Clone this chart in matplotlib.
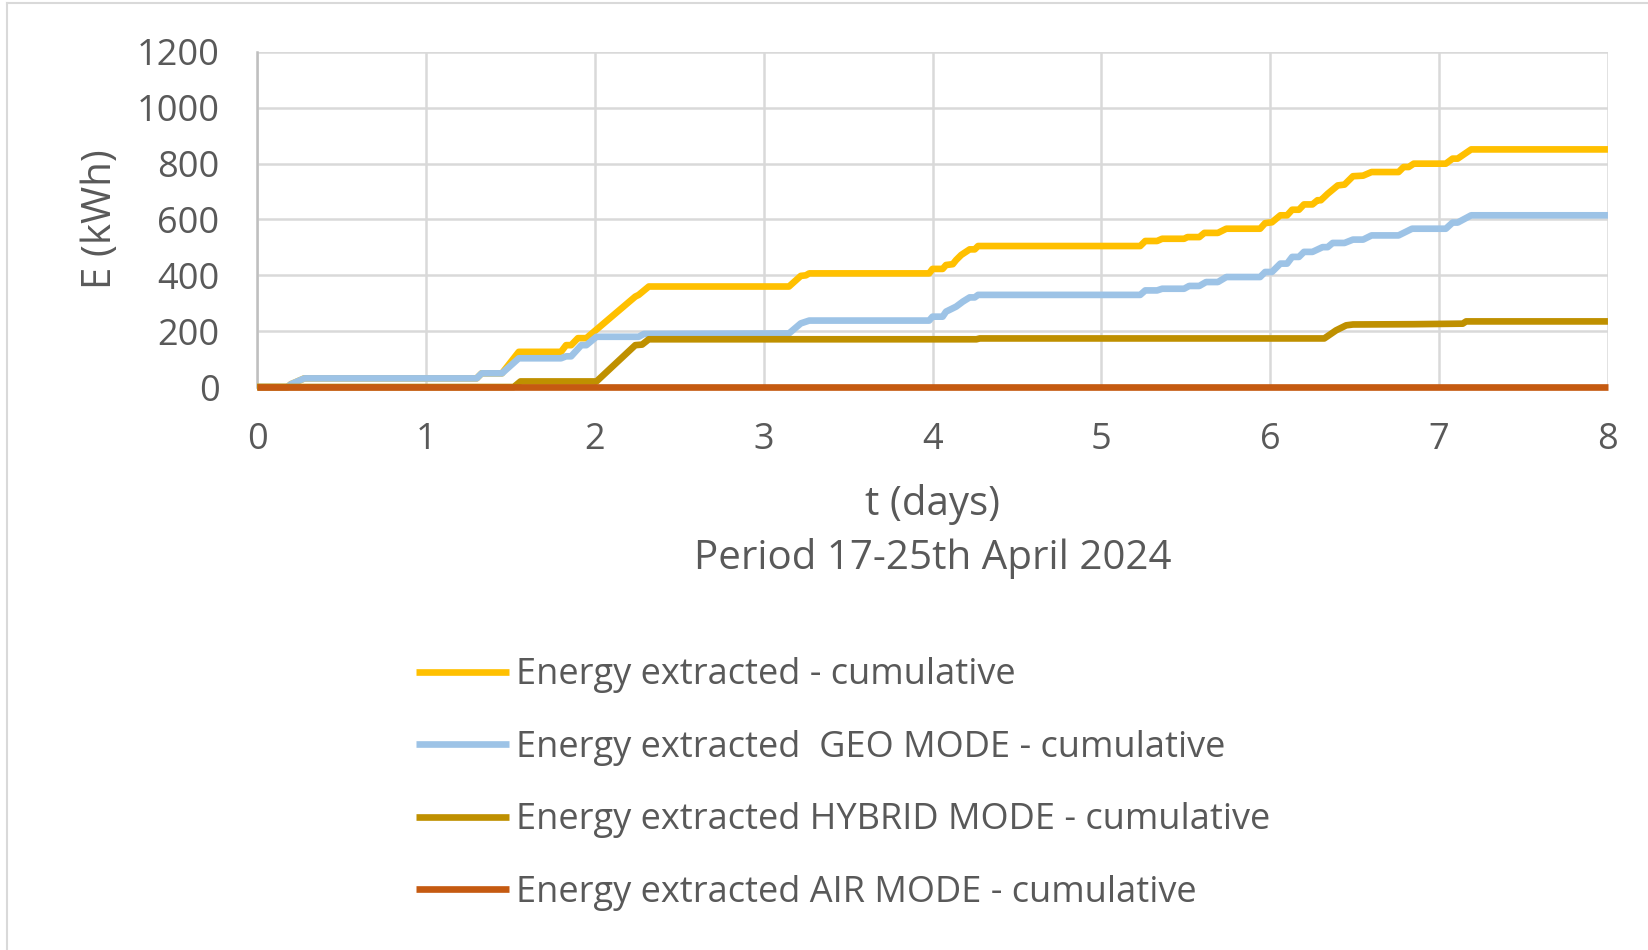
import matplotlib
matplotlib.use("Agg")
import matplotlib.pyplot as plt
from matplotlib.lines import Line2D

plt.rcParams['font.family'] = ['Open Sans', 'DejaVu Sans']

# cumulative energy, (t in days, E in kWh) breakpoints
t_total = [0, 0.18, 0.20, 0.28, 1.30, 1.33, 1.45, 1.55, 1.80, 1.83, 1.86, 1.90, 1.95, 2.24, 2.26, 2.32,
           3.15, 3.22, 3.25, 3.27, 3.98, 4.00, 4.06, 4.08, 4.12, 4.14, 4.17, 4.22, 4.25, 4.27,
           5.23, 5.26, 5.33, 5.36, 5.49, 5.51, 5.58, 5.61, 5.69, 5.74, 5.94, 5.97, 6.01, 6.06, 6.10,
           6.13, 6.17, 6.20, 6.25, 6.28, 6.30, 6.34, 6.40, 6.44, 6.49, 6.55, 6.60, 6.76, 6.79, 6.82,
           6.85, 7.04, 7.08, 7.11, 7.19, 8.0]
e_total = [0, 0, 10, 31, 31, 49, 49, 126, 126, 150, 150, 175, 175, 324, 330, 360,
           360, 398, 400, 407, 407, 423, 423, 437, 440, 455, 473, 493, 493, 505,
           505, 523, 523, 531, 531, 537, 537, 552, 552, 567, 567, 587, 590, 615, 615,
           635, 635, 654, 654, 669, 669, 692, 722, 725, 755, 757, 770, 770, 788, 788,
           800, 800, 818, 818, 851, 851]

t_geo = [0, 0.18, 0.20, 0.28, 1.30, 1.33, 1.45, 1.55, 1.80, 1.83, 1.86, 1.92, 1.95, 2.01, 2.26, 2.29,
         3.15, 3.22, 3.27, 3.98, 4.00, 4.06, 4.08, 4.14, 4.18, 4.22, 4.25, 4.27,
         5.23, 5.26, 5.33, 5.36, 5.49, 5.52, 5.58, 5.62, 5.69, 5.74, 5.94, 5.97, 6.01, 6.06, 6.10,
         6.13, 6.17, 6.20, 6.25, 6.31, 6.34, 6.37, 6.44, 6.49, 6.55, 6.60, 6.76, 6.84, 7.04,
         7.08, 7.11, 7.19, 8.0]
e_geo = [0, 0, 10, 31, 31, 49, 49, 103, 103, 110, 110, 150, 150, 180, 180, 190,
         192, 228, 238, 238, 252, 252, 270, 288, 306, 321, 321, 330,
         330, 346, 346, 352, 352, 362, 362, 376, 376, 394, 394, 412, 412, 442, 442,
         466, 466, 484, 484, 501, 501, 516, 516, 528, 528, 543, 543, 567, 567,
         589, 589, 615, 615]

t_hybrid = [0, 1.52, 1.56, 2.01, 2.24, 2.28, 2.32, 4.26, 4.28, 6.32, 6.39, 6.45, 6.49, 6.85, 7.14, 7.16, 8.0]
e_hybrid = [0, 0, 20, 20, 150, 152, 171, 171, 174, 174, 203, 221, 224, 225, 227, 235, 235]

t_air = [0, 8.0]
e_air = [0, 0]

labels = ["Energy extracted - cumulative",
          "Energy extracted  GEO MODE - cumulative",
          "Energy extracted HYBRID MODE - cumulative",
          "Energy extracted AIR MODE - cumulative"]
colors = ["#FFC000", "#9DC3E6", "#BF9000", "#C55A11"]

text_col = "#595959"
grid_col = "#D9D9D9"

fig = plt.figure(figsize=(16.49, 9.5), dpi=100)
ax = fig.add_axes([0.1559, 0.5926, 0.8192, 0.3527])

series = [(t_total, e_total), (t_geo, e_geo), (t_hybrid, e_hybrid), (t_air, e_air)]
for (t, e), lab, c in zip(series, labels, colors):
    ax.plot(t, e, color=c, lw=4.8, label=lab, clip_on=False, solid_capstyle='butt', zorder=3)

ax.set_xlim(0, 8)
ax.set_ylim(0, 1200)
ax.set_xticks(range(0, 9))
ax.set_yticks(range(0, 1201, 200))
ax.grid(True, color=grid_col, lw=1.8)
ax.set_axisbelow(True)
for s in ['top', 'right', 'bottom']:
    ax.spines[s].set_visible(False)
ax.spines['left'].set_color("#BFBFBF")
ax.spines['left'].set_linewidth(1.8)
ax.tick_params(axis='both', length=0, labelsize=26, colors=text_col)
ax.tick_params(axis='y', pad=27)
ax.tick_params(axis='x', pad=25)

ax.set_ylabel("E (kWh)", fontsize=29, color=text_col)
ax.yaxis.set_label_coords(-0.101, 0.5)
ax.set_xlabel("t (days)\nPeriod 17-25th April 2024", fontsize=29, color=text_col, linespacing=1.41)
ax.xaxis.set_label_coords(0.5, -0.29)

handles, labs = ax.get_legend_handles_labels()
leg = fig.legend(handles, labs, loc='upper left', bbox_to_anchor=(0.2525, 0.308),
                 frameon=False, fontsize=26, handlelength=2.56, handletextpad=0.2,
                 labelspacing=1.01, borderpad=0, borderaxespad=0)
for txt in leg.get_texts():
    txt.set_color(text_col)
for ln in leg.get_lines():
    ln.set_linewidth(4.8)

# chart frame
fig.add_artist(Line2D([7 / 1649, 7 / 1649], [0, 1 - 3 / 950], color=grid_col, lw=1.5))
fig.add_artist(Line2D([7 / 1649, 1], [1 - 3 / 950, 1 - 3 / 950], color=grid_col, lw=1.5))

fig.savefig("out.png", dpi=100)
